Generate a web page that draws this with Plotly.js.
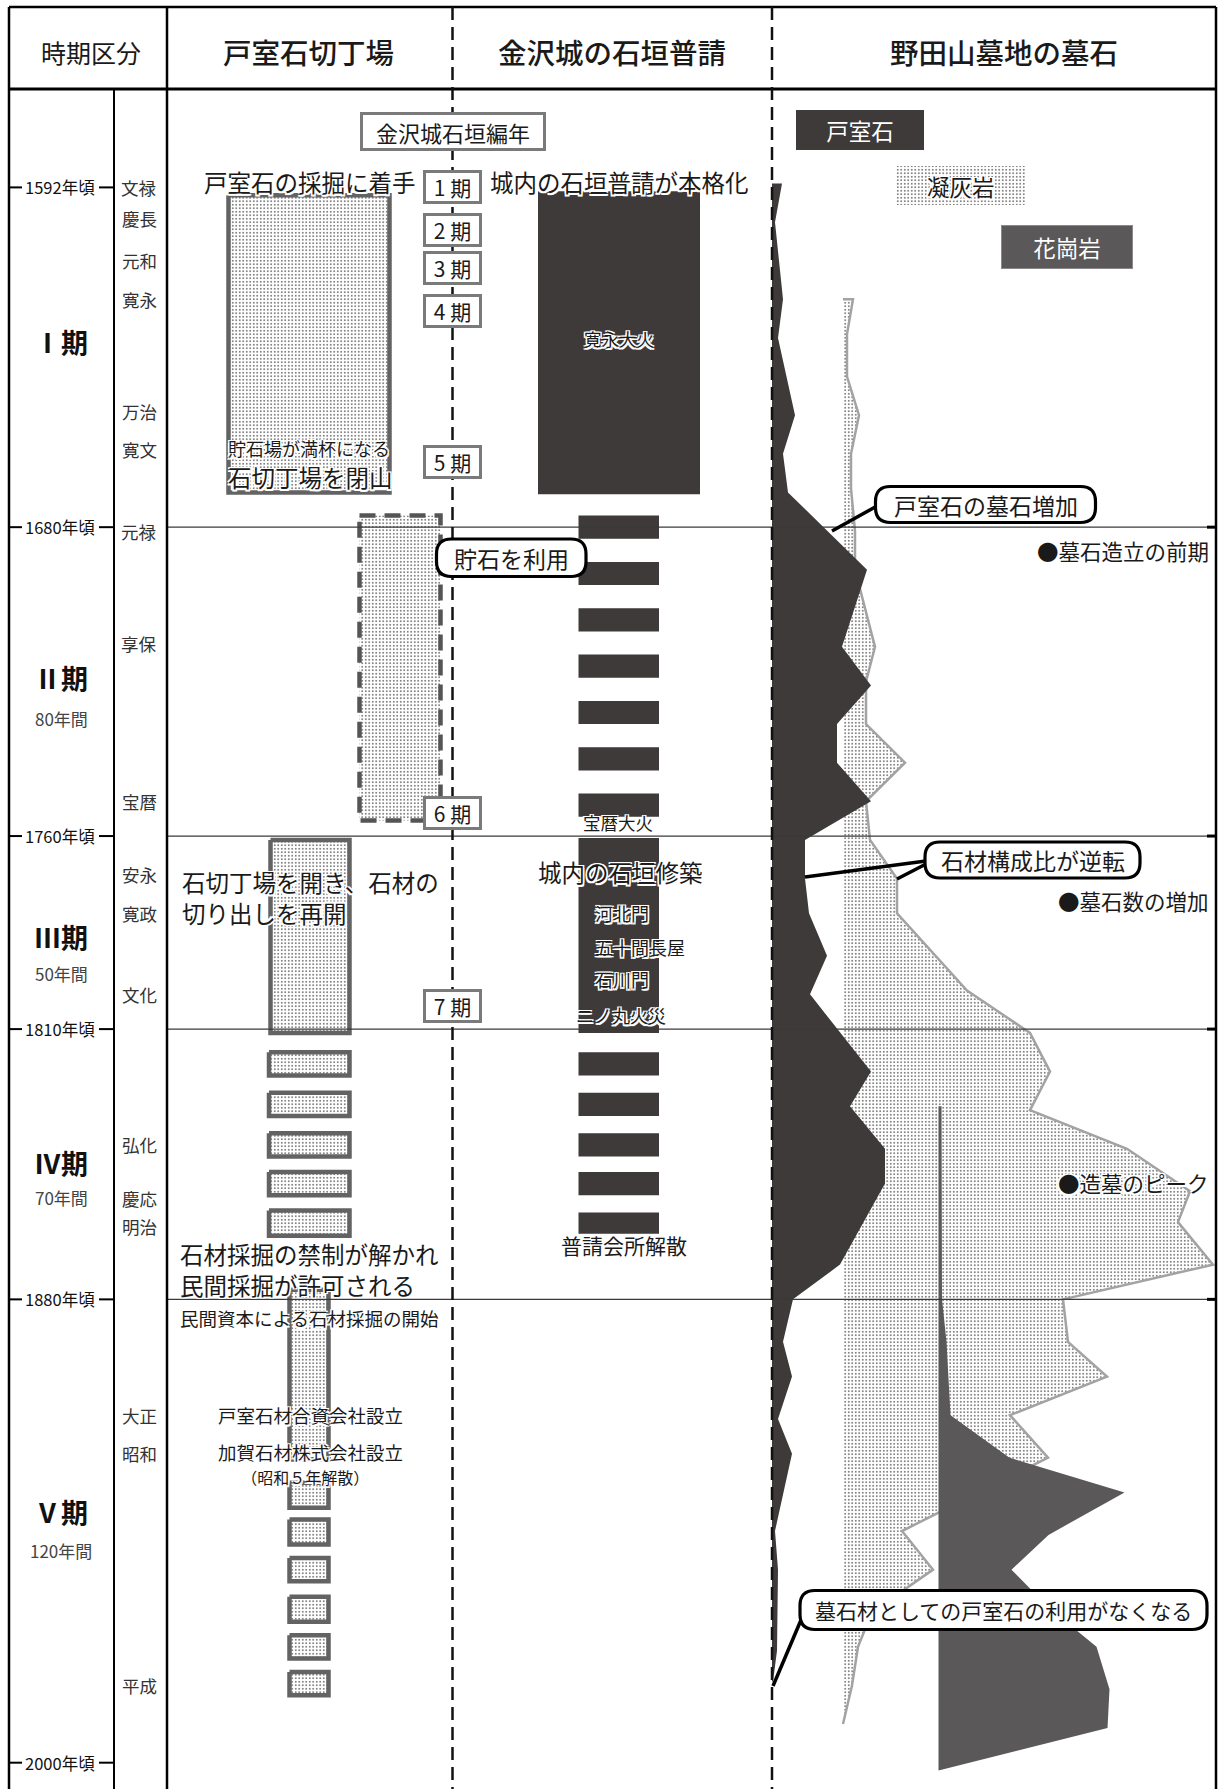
<!DOCTYPE html>
<html>
<head>
<meta charset="utf-8">
<script src="https://cdn.plot.ly/plotly-3.0.1.min.js"></script>
<style>
  html, body { margin: 0; padding: 0; background: #fff; }
  #chart { width: 1218px; height: 1789px; }
</style>
</head>
<body>
<div id="chart"></div>
<script>
/* 戸室石の採掘・金沢城の石垣普請・野田山墓地の墓石の年表.
   y = 西暦 (reversed), x = page columns in px. Layout items (frames, callouts)
   sit on a hidden pixel axis y2. */
(function () {
  "use strict";

  // ---- data ---------------------------------------------------------------
  var TICK_YEARS = [1592, 1680, 1760, 1810, 1880, 2000];
  var TICK_LABELS = ["1592年頃", "1680年頃", "1760年頃", "1810年頃", "1880年頃", "2000年頃"];
  var PERIOD_LINES = [1680, 1760, 1810, 1880];
  var PERIOD_NAMES = ["Ⅰ期", "Ⅱ期", "Ⅲ期", "Ⅳ期", "Ⅴ期"];
  var PERIOD_SPANS = ["", "80年間", "50年間", "70年間", "120年間"];

  var ERA_NAMES = ["文禄", "慶長", "元和", "寛永", "万治", "寛文", "元禄", "享保", "宝暦",
    "安永", "寛政", "文化", "弘化", "慶応", "明治", "大正", "昭和", "平成"];
  var ERA_YEARS = [1592, 1600, 1611, 1621, 1650, 1660, 1681, 1710, 1751,
    1770, 1780, 1801, 1840, 1854, 1861, 1910, 1920, 1980];

  var HENNEN_LABELS = ["1 期", "2 期", "3 期", "4 期", "5 期", "6 期", "7 期"];
  var HENNEN_YEARS = [1592, 1603, 1613, 1624, 1663, 1754, 1804];

  // 戸室石切丁場: operating spans [from, to]
  var QUARRY_I = [[1594, 1671]];
  var QUARRY_STOCK = [[1677, 1756]];          // 貯石を利用
  var QUARRY_III = [[1761, 1811]];
  var QUARRY_IV = [[1816, 1822], [1826.5, 1832.5], [1837, 1843], [1847, 1853], [1857, 1863.5]];
  var QUARRY_V_MAIN = [[1877.5, 1921.5]];
  var QUARRY_V = [[1927.5, 1934], [1937, 1943.5], [1947, 1953], [1957, 1963.5], [1967, 1973], [1976.5, 1982.5]];

  // 金沢城の石垣普請: construction spans
  var CASTLE_I = [[1593, 1671.5]];
  var CASTLE_II = [[1677, 1683], [1689, 1695], [1701, 1707], [1713, 1719], [1725, 1731], [1737, 1743], [1749, 1755]];
  var CASTLE_III = [[1760.5, 1811]];
  var CASTLE_IV = [[1816, 1822], [1826.5, 1832.5], [1837, 1843], [1847, 1853], [1857.5, 1863]];

  // 野田山墓地の墓石 (relative number of gravestones by stone type)
  var TOMURO_YEARS = [1591, 1601, 1621, 1631, 1651, 1661, 1671, 1691, 1711, 1721, 1731, 1741, 1751,
    1761, 1771, 1780, 1791, 1801, 1821, 1830, 1841, 1850, 1871, 1880, 1891, 1900, 1911, 1920,
    1940, 1950, 1971, 1979];
  var TOMURO_COUNT = [10, 3, 11, 6, 23, 11, 16, 95, 70, 99, 65, 65, 99,
    33, 33, 37, 55, 38, 99, 78, 113, 113, 68, 21, 11, 20, 6, 20,
    3, 6, 5, 1];

  var GYOKAI_YEARS = [1621, 1630, 1641, 1651, 1661, 1670, 1681, 1691, 1711, 1720, 1731, 1741, 1751,
    1761, 1771, 1780, 1800, 1811, 1821, 1831, 1841, 1852, 1860, 1871, 1880, 1891, 1900, 1910,
    1921, 1940, 1950, 1961, 1970, 1980, 1990];
  var GYOKAI_COUNT = [10, 4, 4, 16, 8, 8, 12, 12, 32, 23, 23, 62, 23,
    27, 54, 54, 124, 187, 207, 187, 284, 347, 335, 370, 220, 225, 264, 167,
    205, 59, 90, 29, 15, 9, 0];

  var KAKO_YEARS = [1830, 1880, 1891, 1910, 1921, 1930, 1941, 1950, 1960, 1970, 1981, 1991, 2002];
  var KAKO_COUNT = [3, 3.5, 8, 12, 71, 186, 110, 73, 111, 158, 171, 169, 0];

  // ---- style / layout constants -------------------------------------------
  var W = 1218, H = 1789;
  var FONT = "'Noto Sans CJK JP', 'Noto Sans', sans-serif";
  var INK = "#1a1a1a";
  var DARK = "#3d3a39";
  var GRANITE = "#5a5859";
  var BOXLINE = "#636363";
  var LABELLINE = "#7a7a7a";
  var HALO = "-1.5px -1.5px 0 #fff, 1.5px -1.5px 0 #fff, -1.5px 1.5px 0 #fff, 1.5px 1.5px 0 #fff, 0 1.5px 0 #fff, 0 -1.5px 0 #fff";
  var STIPPLE = { shape: ".", fgcolor: "#555", bgcolor: "#fff", size: 3.5, solidity: 0.18 };

  // year <-> page pixel fit of the reference (px = 940.3 + 3.861 * (year - 1787))
  var Y_TOP = 1787 - 940.3 / 3.861;
  var Y_BOTTOM = 1787 + (H - 940.3) / 3.861;

  var X_LEFT = 9, X_RIGHT = 1216, X_ERA = 114, X_MAIN = 167, X_DASH1 = 452.5, X_DASH2 = 772;
  var BASE_TOMURO = 772, BASE_GYOKAI = 843, BASE_KAKO = 938.5;

  function rects(x0, x1, spans) {
    var xs = [], ys = [];
    spans.forEach(function (s, i) {
      if (i) { xs.push(null); ys.push(null); }
      xs.push(x0, x1, x1, x0, x0);
      ys.push(s[0], s[0], s[1], s[1], s[0]);
    });
    return { x: xs, y: ys };
  }

  function profile(base, years, counts) {
    var xs = [base], ys = [years[0]];
    years.forEach(function (yr, i) { xs.push(base + counts[i]); ys.push(yr); });
    xs.push(base); ys.push(years[years.length - 1]);
    return { x: xs, y: ys };
  }

  function area(xy, opts) {
    return Object.assign({
      type: "scatter", mode: "lines", x: xy.x, y: xy.y, fill: "toself",
      hoverinfo: "skip", line: { width: 0 }
    }, opts);
  }

  var traces = [];
  function stippleBox(x0, x1, spans, line) {
    traces.push(area(rects(x0, x1, spans), {
      fillcolor: "#fff", fillpattern: STIPPLE, line: line
    }));
  }
  function darkBox(x0, x1, spans) {
    traces.push(area(rects(x0, x1, spans), { fillcolor: DARK, line: { width: 0, color: DARK } }));
  }

  // 戸室石切丁場
  var solidEdge = { color: BOXLINE, width: 4.5 };
  stippleBox(228.5, 389.5, QUARRY_I, solidEdge);
  stippleBox(359.5, 440.5, QUARRY_STOCK, { color: "#555", width: 4.5, dash: "16px,9px" });
  stippleBox(270.5, 349.5, QUARRY_III, solidEdge);
  stippleBox(269, 349.5, QUARRY_IV, solidEdge);
  stippleBox(289.5, 328.5, QUARRY_V_MAIN, solidEdge);
  stippleBox(289.5, 328.5, QUARRY_V, solidEdge);

  // 金沢城の石垣普請
  darkBox(538, 700, CASTLE_I);
  darkBox(578.5, 659, CASTLE_II);
  darkBox(578.5, 659, CASTLE_III);
  darkBox(578.5, 659, CASTLE_IV);

  // 野田山墓地の墓石
  traces.push(area(profile(BASE_GYOKAI, GYOKAI_YEARS, GYOKAI_COUNT), {
    fillcolor: "#fff", fillpattern: STIPPLE, line: { color: "#a3a3a3", width: 2.5 }
  }));
  traces.push(area(profile(BASE_KAKO, KAKO_YEARS, KAKO_COUNT), {
    fillcolor: GRANITE, line: { width: 0, color: GRANITE }
  }));
  traces.push(area(profile(BASE_TOMURO, TOMURO_YEARS, TOMURO_COUNT), {
    fillcolor: DARK, line: { width: 0, color: DARK }
  }));

  // legend swatch for 凝灰岩 (pixel axis)
  traces.push(area(rects(896, 1026, [[166, 205]]), {
    yaxis: "y2", fillcolor: "#fff", fillpattern: STIPPLE, line: { width: 0 }
  }));

  // ---- shapes ---------------------------------------------------------------
  var shapes = [];
  function seg(x0, y0, x1, y1, line, yref) {
    shapes.push({ type: "line", xref: "x", yref: yref || "y2", x0: x0, y0: y0, x1: x1, y1: y1,
      line: line, layer: "above" });
  }
  function roundRect(x0, y0, x1, y1, r) {
    return "M" + (x0 + r) + "," + y0 + " H" + (x1 - r) +
      " Q" + x1 + "," + y0 + " " + x1 + "," + (y0 + r) +
      " V" + (y1 - r) + " Q" + x1 + "," + y1 + " " + (x1 - r) + "," + y1 +
      " H" + (x0 + r) + " Q" + x0 + "," + y1 + " " + x0 + "," + (y1 - r) +
      " V" + (y0 + r) + " Q" + x0 + "," + y0 + " " + (x0 + r) + "," + y0 + " Z";
  }

  PERIOD_LINES.forEach(function (yr) {
    seg(X_MAIN, yr, X_RIGHT, yr, { color: "#3a3a3a", width: 1.3 }, "y");
    seg(1207, yr, X_RIGHT, yr, { color: "#000", width: 3 }, "y");
  });
  TICK_YEARS.forEach(function (yr) {
    seg(X_LEFT, yr, 22, yr, { color: "#000", width: 2 }, "y");
    seg(99, yr, X_ERA, yr, { color: "#000", width: 2 }, "y");
  });

  var frame = { color: "#000", width: 2.5 };
  seg(X_LEFT, 7, X_RIGHT, 7, frame);
  seg(X_LEFT, 89, X_RIGHT, 89, { color: "#000", width: 3 });
  seg(X_LEFT, 7, X_LEFT, H, frame);
  seg(X_RIGHT, 7, X_RIGHT, H, frame);
  seg(X_MAIN, 7, X_MAIN, H, frame);
  seg(X_ERA, 89, X_ERA, H, { color: "#000", width: 2 });
  seg(X_DASH1, 7, X_DASH1, H, { color: "#111", width: 2.5, dash: "13px,7px" });
  seg(X_DASH2, 7, X_DASH2, H, { color: "#111", width: 2.5, dash: "13px,7px" });

  // callout pointers, then bubbles
  var pointer = { color: "#000", width: 3.5 };
  seg(877, 506, 832, 531, pointer);
  seg(926, 861, 805, 877, pointer);
  seg(926, 864, 897, 879, pointer);
  seg(801, 1620, 773, 1686, pointer);
  [[436.5, 539, 586, 576.5], [875.5, 486.5, 1095.5, 522.5],
   [925, 842, 1140, 878], [800, 1590.5, 1207, 1629.5]].forEach(function (b) {
    shapes.push({ type: "path", xref: "x", yref: "y2", path: roundRect(b[0], b[1], b[2], b[3], 15),
      fillcolor: "#fff", line: { color: "#000", width: 3.2 }, layer: "above" });
  });

  // ---- annotations ----------------------------------------------------------
  var annotations = [];
  function note(x, y, text, size, opt) {
    opt = opt || {};
    annotations.push(Object.assign({
      xref: "x", yref: opt.yref || "y2", x: x, y: y, text: text, showarrow: false,
      xanchor: opt.anchor || "center", yanchor: "middle", align: opt.align || "center",
      font: { family: FONT, size: size, color: opt.color || INK, weight: opt.weight || "normal",
              shadow: opt.halo ? HALO : "none" }
    }, opt.box || {}));
  }

  // header
  note(91, 52, "時期区分", 25);
  note(308, 51, "戸室石切丁場", 28.5, { weight: 500 });
  note(612, 51, "金沢城の石垣普請", 28.5, { weight: 500 });
  note(1004, 51, "野田山墓地の墓石", 28.5, { weight: 500 });

  // time axis
  TICK_LABELS.forEach(function (t, i) {
    note(60, TICK_YEARS[i], t, 16.5, { yref: "y", color: "#111" });
  });
  ERA_NAMES.forEach(function (t, i) {
    note(139, ERA_YEARS[i], t, 17.5, { yref: "y", color: "#333" });
  });
  var PERIOD_Y = [341, 677, 936, 1162, 1511], SPAN_Y = [0, 718, 973, 1197, 1550];
  PERIOD_NAMES.forEach(function (t, i) {
    note(90, PERIOD_Y[i], t, 27, { anchor: "right", weight: "bold", color: "#111" });
    if (PERIOD_SPANS[i]) note(61, SPAN_Y[i], PERIOD_SPANS[i], 17, { color: "#444" });
  });

  // 編年 labels
  var labelBox = { bgcolor: "#fff", bordercolor: LABELLINE, borderwidth: 3, borderpad: 1 };
  note(452.5, 131, "金沢城石垣編年", 22, { box: Object.assign({ width: 178, height: 31 }, labelBox) });
  HENNEN_LABELS.forEach(function (t, i) {
    note(452.5, HENNEN_YEARS[i], t, 21, { yref: "y", box: Object.assign({ width: 51, height: 26 }, labelBox) });
  });

  // 戸室石切丁場 notes
  note(202, 182, "戸室石の採掘に着手", 23.5, { anchor: "left", halo: true });
  note(226, 448, "貯石場が満杯になる", 18, { anchor: "left", halo: true });
  note(226, 477, "石切丁場を閉山", 23.5, { anchor: "left", halo: true });
  note(511, 558, "貯石を利用", 23);
  note(180, 897.5, "石切丁場を開き、石材の<br>切り出しを再開", 23.5,
    { anchor: "left", align: "left", halo: true });
  note(178, 1269, "石材採掘の禁制が解かれ<br>民間採掘が許可される", 23.5,
    { anchor: "left", align: "left", halo: true });
  note(178, 1318, "民間資本による石材採掘の開始", 18.5, { anchor: "left", halo: true });
  note(216, 1415, "戸室石材合資会社設立", 18.5, { anchor: "left", halo: true });
  note(216, 1464, "加賀石材株式会社設立<br><span style='font-size:16px'>（昭和５年解散）</span>　", 18.5,
    { anchor: "left", halo: true });

  // 金沢城の石垣普請 notes
  note(488, 182, "城内の石垣普請が本格化", 23.5, { anchor: "left", halo: true });
  note(619, 338, "寛永大火", 17.5, { halo: true });
  note(618, 822, "宝暦大火", 17.5, { halo: true });
  note(536, 872, "城内の石垣修築", 23.5, { anchor: "left", halo: true });
  note(593, 913, "河北門", 18, { anchor: "left", halo: true });
  note(593, 947, "五十間長屋", 18, { anchor: "left", halo: true });
  note(593, 979, "石川門", 18, { anchor: "left", halo: true });
  note(574, 1015, "ニノ丸火災", 18, { anchor: "left", halo: true });
  note(559, 1245, "普請会所解散", 21, { anchor: "left", halo: true });

  // 野田山墓地 legend & notes
  note(860, 130, "戸室石", 22.5, { color: "#fff",
    box: { bgcolor: DARK, width: 128, height: 40, borderpad: 0, borderwidth: 0 } });
  note(961, 185.5, "凝灰岩", 22.5, { halo: true });
  note(1067, 247, "花崗岩", 22.5, { color: "#fff",
    box: { bgcolor: GRANITE, bordercolor: "#8a8a8a", borderwidth: 1, width: 130, height: 42, borderpad: 0 } });
  note(985.5, 505, "戸室石の墓石増加", 23);
  note(1032.5, 860, "石材構成比が逆転", 23);
  note(1003.5, 1610, "墓石材としての戸室石の利用がなくなる", 21);
  note(1211, 550, "●墓石造立の前期", 21.5, { anchor: "right" });
  note(1211, 900, "●墓石数の増加", 21.5, { anchor: "right" });
  note(1211, 1182, "●造墓のピーク", 21.5, { anchor: "right", halo: true });

  var layout = {
    width: W, height: H,
    margin: { l: 0, r: 0, t: 0, b: 0 },
    paper_bgcolor: "#fff", plot_bgcolor: "#fff",
    showlegend: false,
    font: { family: FONT, color: INK },
    xaxis: { range: [0, W], visible: false, fixedrange: true },
    yaxis: { range: [Y_BOTTOM, Y_TOP], visible: false, fixedrange: true },
    yaxis2: { range: [H, 0], overlaying: "y", visible: false, fixedrange: true },
    shapes: shapes,
    annotations: annotations
  };

  Plotly.newPlot("chart", traces, layout, { staticPlot: true, displayModeBar: false });
})();
</script>
</body>
</html>
